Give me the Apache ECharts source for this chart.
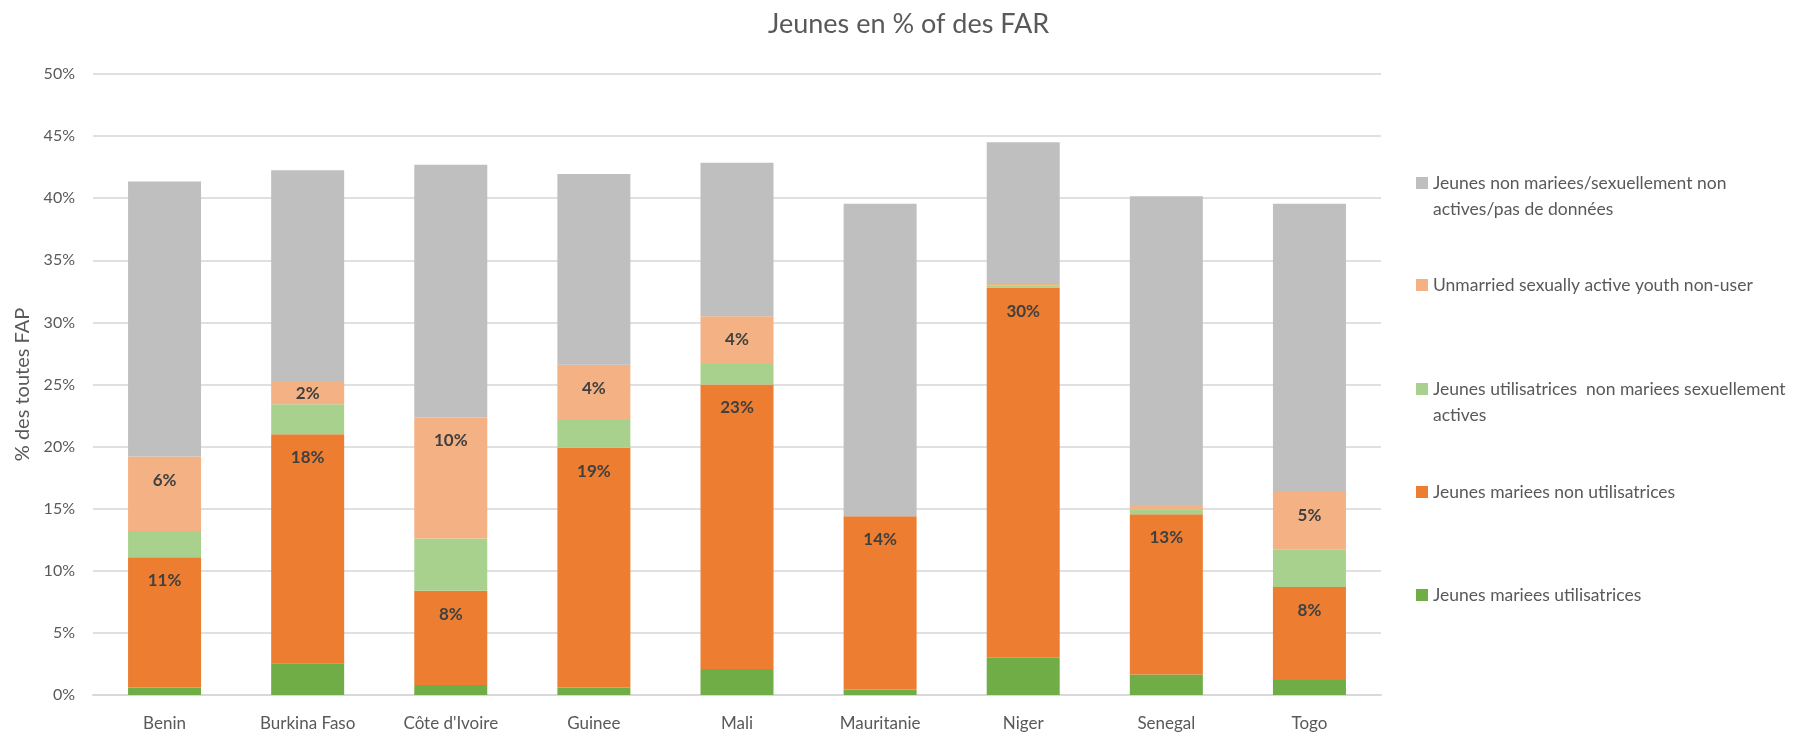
<!DOCTYPE html>
<html>
<head>
<meta charset="utf-8">
<script src="https://cdn.jsdelivr.net/npm/echarts@6/dist/echarts.min.js"></script>
<style>
html,body{margin:0;padding:0;background:#fff;}
#chart{width:1806px;height:734px;}
</style>
</head>
<body>
<div id="chart"></div>
<script>
const categories = ['Benin', 'Burkina Faso', "Côte d'Ivoire", 'Guinee', 'Mali', 'Mauritanie', 'Niger', 'Senegal', 'Togo'];
const seriesNames = [
  'Jeunes mariees utilisatrices',
  'Jeunes mariees non utilisatrices',
  'Jeunes utilisatrices  non mariees sexuellement actives',
  'Unmarried sexually active youth non-user',
  'Jeunes non mariees/sexuellement non actives/pas de données'
];
const marriedUsers    = [0.6, 2.55, 0.8, 0.6, 2.1, 0.45, 3.0, 1.65, 1.2];
const marriedNonUsers = [10.5, 18.45, 7.6, 19.3, 22.9, 13.95, 29.8, 12.9, 7.5];
const unmarriedUsers  = [2.1, 2.4, 4.2, 2.25, 1.65, 0, 0.15, 0.4, 3.0];
const unmarriedNonUsers = [6.0, 1.8, 9.75, 4.45, 3.85, 0, 0.15, 0.35, 4.65];
const notActive       = [22.15, 17.05, 20.35, 15.35, 12.35, 25.15, 11.4, 24.85, 23.2];
const yTicks = { min: 0, max: 50, interval: 5 };

const colors = ['#70AD47', '#ED7D31', '#A9D18E', '#F4B183', '#BFBFBF'];
const FONT = 'Lato';

const labelOn = {
  show: true,
  position: 'insideTop',
  distance: 15,
  fontFamily: FONT,
  fontSize: 17,
  fontWeight: 'bold',
  color: '#404040',
  formatter: p => (p.value >= 1 ? Math.round(p.value) + '%' : '')
};

function mk(idx, data, withLabel) {
  return {
    name: seriesNames[idx],
    type: 'bar',
    stack: 'total',
    barWidth: 73,
    itemStyle: { color: colors[idx] },
    label: withLabel ? labelOn : { show: false },
    emphasis: { disabled: true },
    data: data.map((v, i) => {
      if (withLabel && idx === 3 && v < 2.5 && v >= 1) {
        return { value: v, label: { position: 'inside', distance: 0 } };
      }
      return v;
    })
  };
}

// legend: top to bottom = gray, peach, light green, orange, green
const legendOrder = [4, 3, 2, 1, 0];
const legendIconCenters = [183, 285, 389, 492, 595];
const legendLabels = {
  4: ['Jeunes non mariees/sexuellement non', 'actives/pas de données'],
  3: ['Unmarried sexually active youth non-user'],
  2: ['Jeunes utilisatrices  non mariees sexuellement', 'actives'],
  1: ['Jeunes mariees non utilisatrices'],
  0: ['Jeunes mariees utilisatrices']
};
const legends = legendOrder.map((sIdx, k) => {
  const lines = legendLabels[sIdx];
  const twoLines = lines.length > 1;
  return {
    orient: 'vertical',
    left: 1416,
    top: legendIconCenters[k] - (twoLines ? 39 : 13),
    padding: 0,
    itemWidth: 12,
    itemHeight: 12,
    itemGap: 0,
    icon: 'rect',
    selectedMode: false,
    // a blank first line keeps the first text line level with the icon
    formatter: n => {
      const l = legendLabels[seriesNames.indexOf(n)];
      return l.length > 1 ? ' \n' + l.join('\n') : l[0];
    },
    textStyle: {
      fontFamily: FONT,
      fontSize: 17.5,
      color: '#595959',
      lineHeight: 26
    },
    data: [seriesNames[sIdx]]
  };
});

const chart = echarts.init(document.getElementById('chart'), null, { renderer: 'canvas' });
chart.setOption({
  animation: false,
  backgroundColor: '#ffffff',
  title: {
    text: 'Jeunes en % of des FAR',
    left: 763,
    top: 6,
    textStyle: { fontFamily: FONT, fontSize: 27, fontWeight: 'normal', color: '#595959' }
  },
  legend: legends,
  grid: { left: 93, right: 425, top: 74, bottom: 39, containLabel: false },
  xAxis: {
    type: 'category',
    data: categories,
    axisLine: { show: true, lineStyle: { color: '#D9D9D9', width: 2 } },
    axisTick: { show: false },
    axisLabel: { fontFamily: FONT, fontSize: 17, color: '#595959', margin: 20, interval: 0 }
  },
  yAxis: {
    type: 'value',
    min: yTicks.min,
    max: yTicks.max,
    interval: yTicks.interval,
    name: '% des toutes FAP',
    nameLocation: 'middle',
    nameGap: 58,
    nameTextStyle: { fontFamily: FONT, fontSize: 20, color: '#595959' },
    axisLine: { show: false },
    axisTick: { show: false },
    splitLine: { lineStyle: { color: '#E0E0E0', width: 2 } },
    axisLabel: { fontFamily: FONT, fontSize: 16, color: '#595959', margin: 18, formatter: '{value}%' }
  },
  series: [
    mk(0, marriedUsers, false),
    mk(1, marriedNonUsers, true),
    mk(2, unmarriedUsers, false),
    mk(3, unmarriedNonUsers, true),
    mk(4, notActive, false)
  ]
});
</script>
</body>
</html>
